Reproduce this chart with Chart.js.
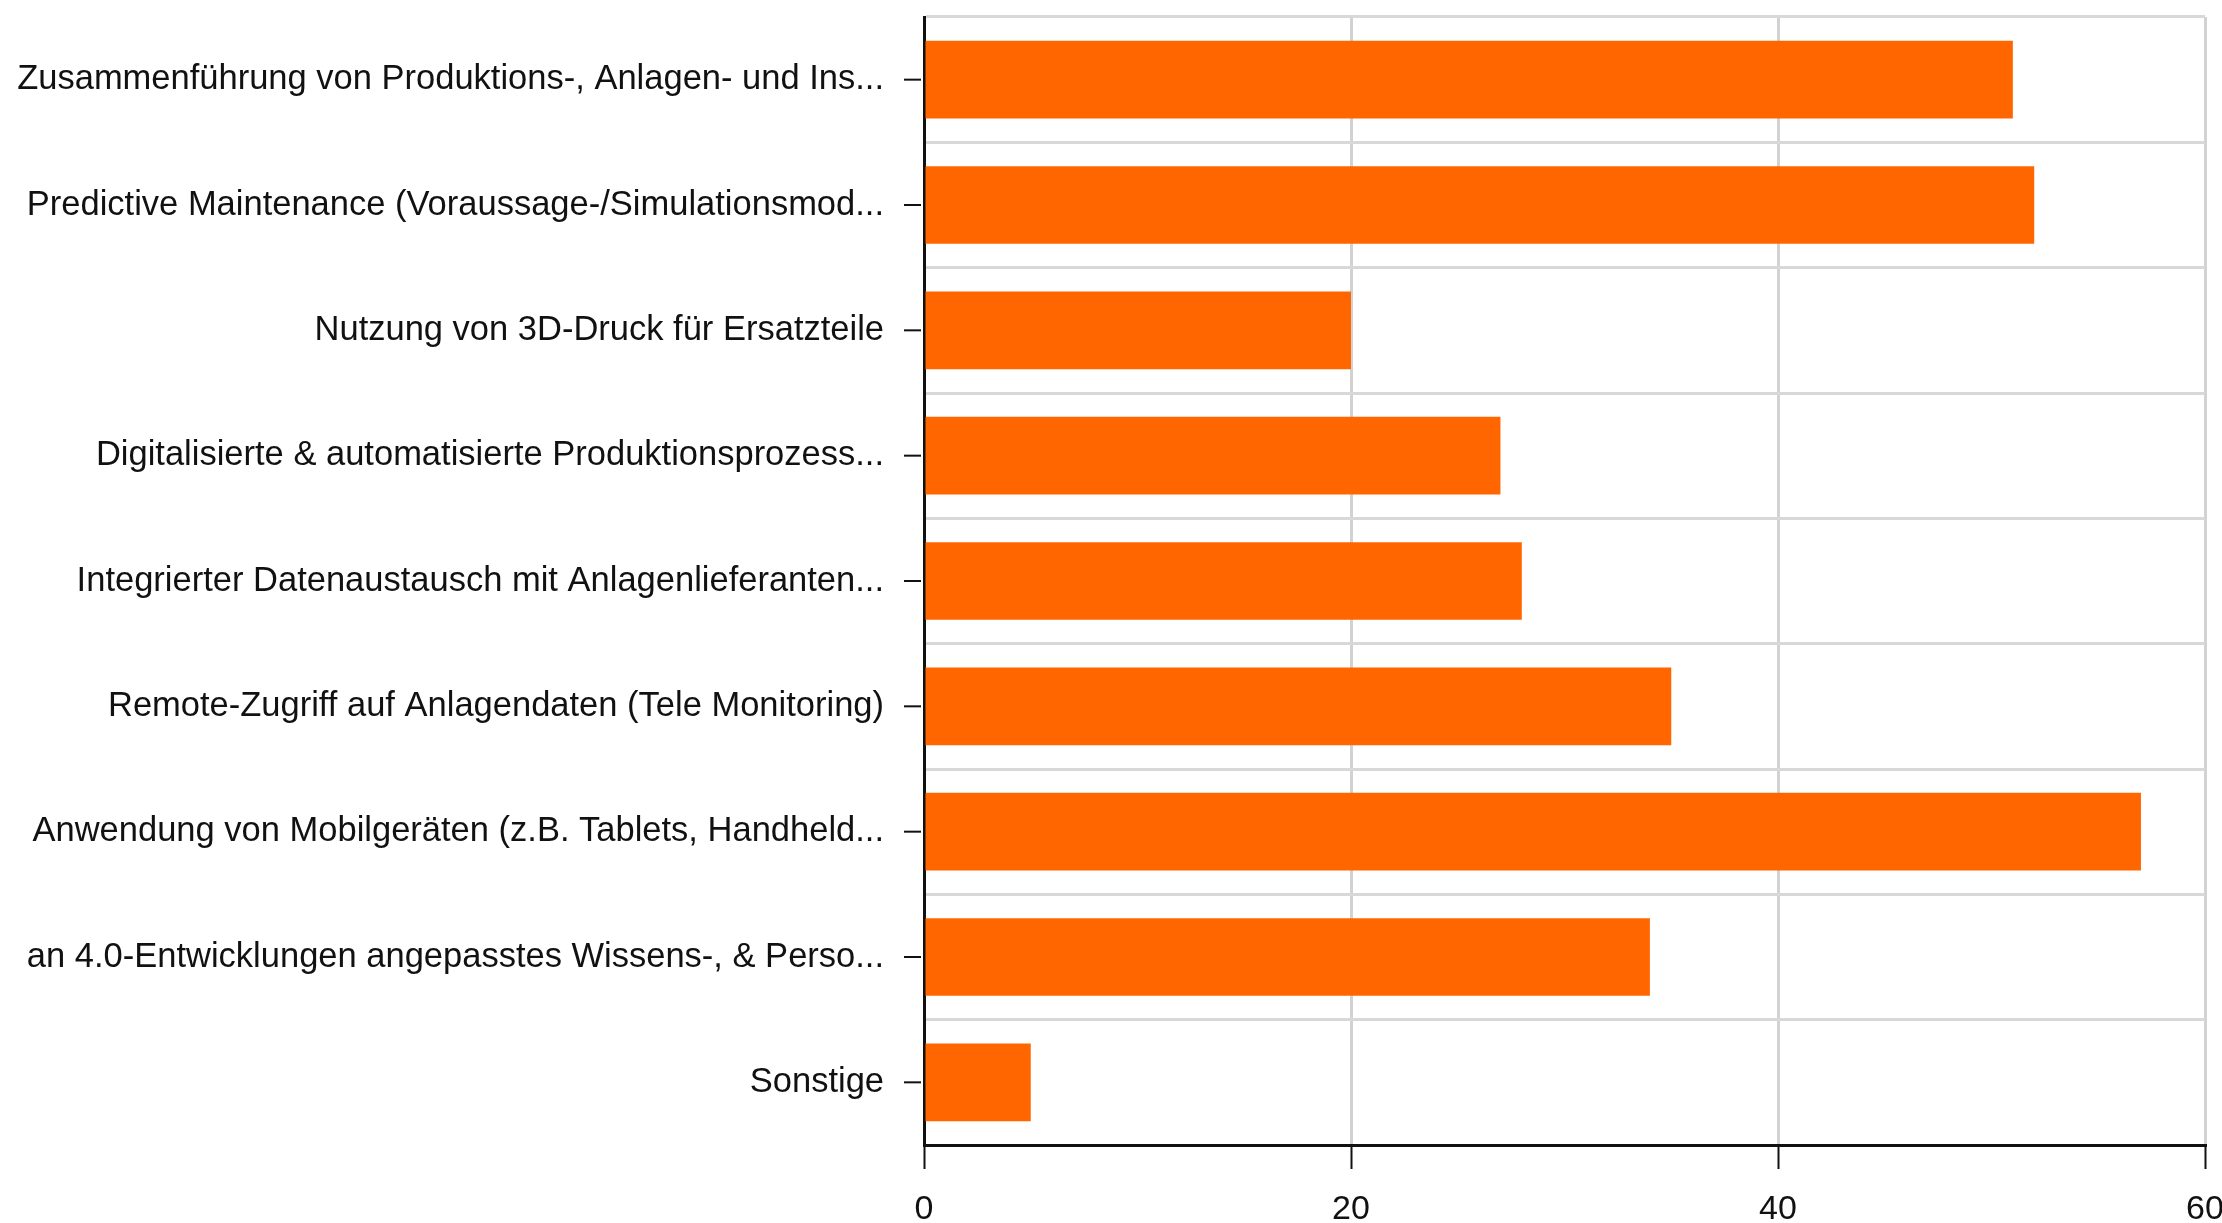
<!DOCTYPE html>
<html>
<head>
<meta charset="utf-8">
<script src="https://cdn.jsdelivr.net/npm/chart.js@4"></script>
<style>
  html, body { margin: 0; padding: 0; background: #fff; overflow: hidden; }
  #wrap { width: 2222px; height: 1223px; }
</style>
</head>
<body>
<div id="wrap"><canvas id="myChart" width="2222" height="1223"></canvas></div>
<script>
// categories and values
const categories = [
    'Zusammenführung von Produktions-, Anlagen- und Ins...',
    'Predictive Maintenance (Voraussage-/Simulationsmod...',
    'Nutzung von 3D-Druck für Ersatzteile',
    'Digitalisierte & automatisierte Produktionsprozess...',
    'Integrierter Datenaustausch mit Anlagenlieferanten...',
    'Remote-Zugriff auf Anlagendaten (Tele Monitoring)',
    'Anwendung von Mobilgeräten (z.B. Tablets, Handheld...',
    'an 4.0-Entwicklungen angepasstes Wissens-, & Perso...',
    'Sonstige'
];
const values = [51, 52, 20, 27, 28, 35, 57, 34, 5];
const xTicks = [0, 20, 40, 60];

const FONT = 'Liberation Sans, Arial, sans-serif';

// little tick marks at the centre of each category (grid lines sit between them)
const catTicks = {
    id: 'catTicks',
    afterDraw(chart) {
        const y = chart.scales.y;
        const c = chart.ctx;
        c.save();
        c.strokeStyle = '#111';
        c.lineWidth = 2;
        for (let i = 0; i < categories.length; i++) {
            const py = y.getPixelForTick(i);
            c.beginPath();
            c.moveTo(y.right - 20, py);
            c.lineTo(y.right - 3, py);
            c.stroke();
        }
        c.restore();
    }
};

var ctx = document.getElementById('myChart').getContext('2d');
var myChart = new Chart(ctx, {
    type: 'bar',
    data: {
        labels: categories,
        datasets: [{
            data: values,
            backgroundColor: '#ff6600',
            borderWidth: 0,
            barPercentage: 0.62,
            categoryPercentage: 1
        }]
    },
    options: {
        indexAxis: 'y',
        responsive: false,
        animation: false,
        layout: { padding: { top: 17, right: 17, left: 0, bottom: 0 } },
        plugins: {
            legend: { display: false },
            tooltip: { enabled: false }
        },
        scales: {
            x: {
                min: 0,
                max: 60,
                afterBuildTicks: (s) => { s.ticks = xTicks.map(v => ({ value: v })); },
                afterFit: (s) => { s.height = 78; s.paddingLeft = 0; s.paddingRight = 0; },
                ticks: {
                    color: '#111',
                    padding: 20,
                    font: { family: FONT, size: 34 }
                },
                grid: {
                    color: '#d2d2d2',
                    lineWidth: 3,
                    tickLength: 24,
                    tickColor: '#111',
                    tickWidth: 2
                },
                border: { color: '#111', width: 3 }
            },
            y: {
                afterFit: (s) => { s.width = 924; s.paddingTop = 0; s.paddingBottom = 0; },
                ticks: {
                    color: '#111',
                    padding: 40,
                    autoSkip: false,
                    font: { family: FONT, size: 34.5 }
                },
                grid: {
                    offset: true,
                    drawTicks: false,
                    color: '#d8d8d8',
                    lineWidth: 3
                },
                border: { color: '#111', width: 3 }
            }
        }
    },
    plugins: [catTicks]
});
</script>
</body>
</html>
